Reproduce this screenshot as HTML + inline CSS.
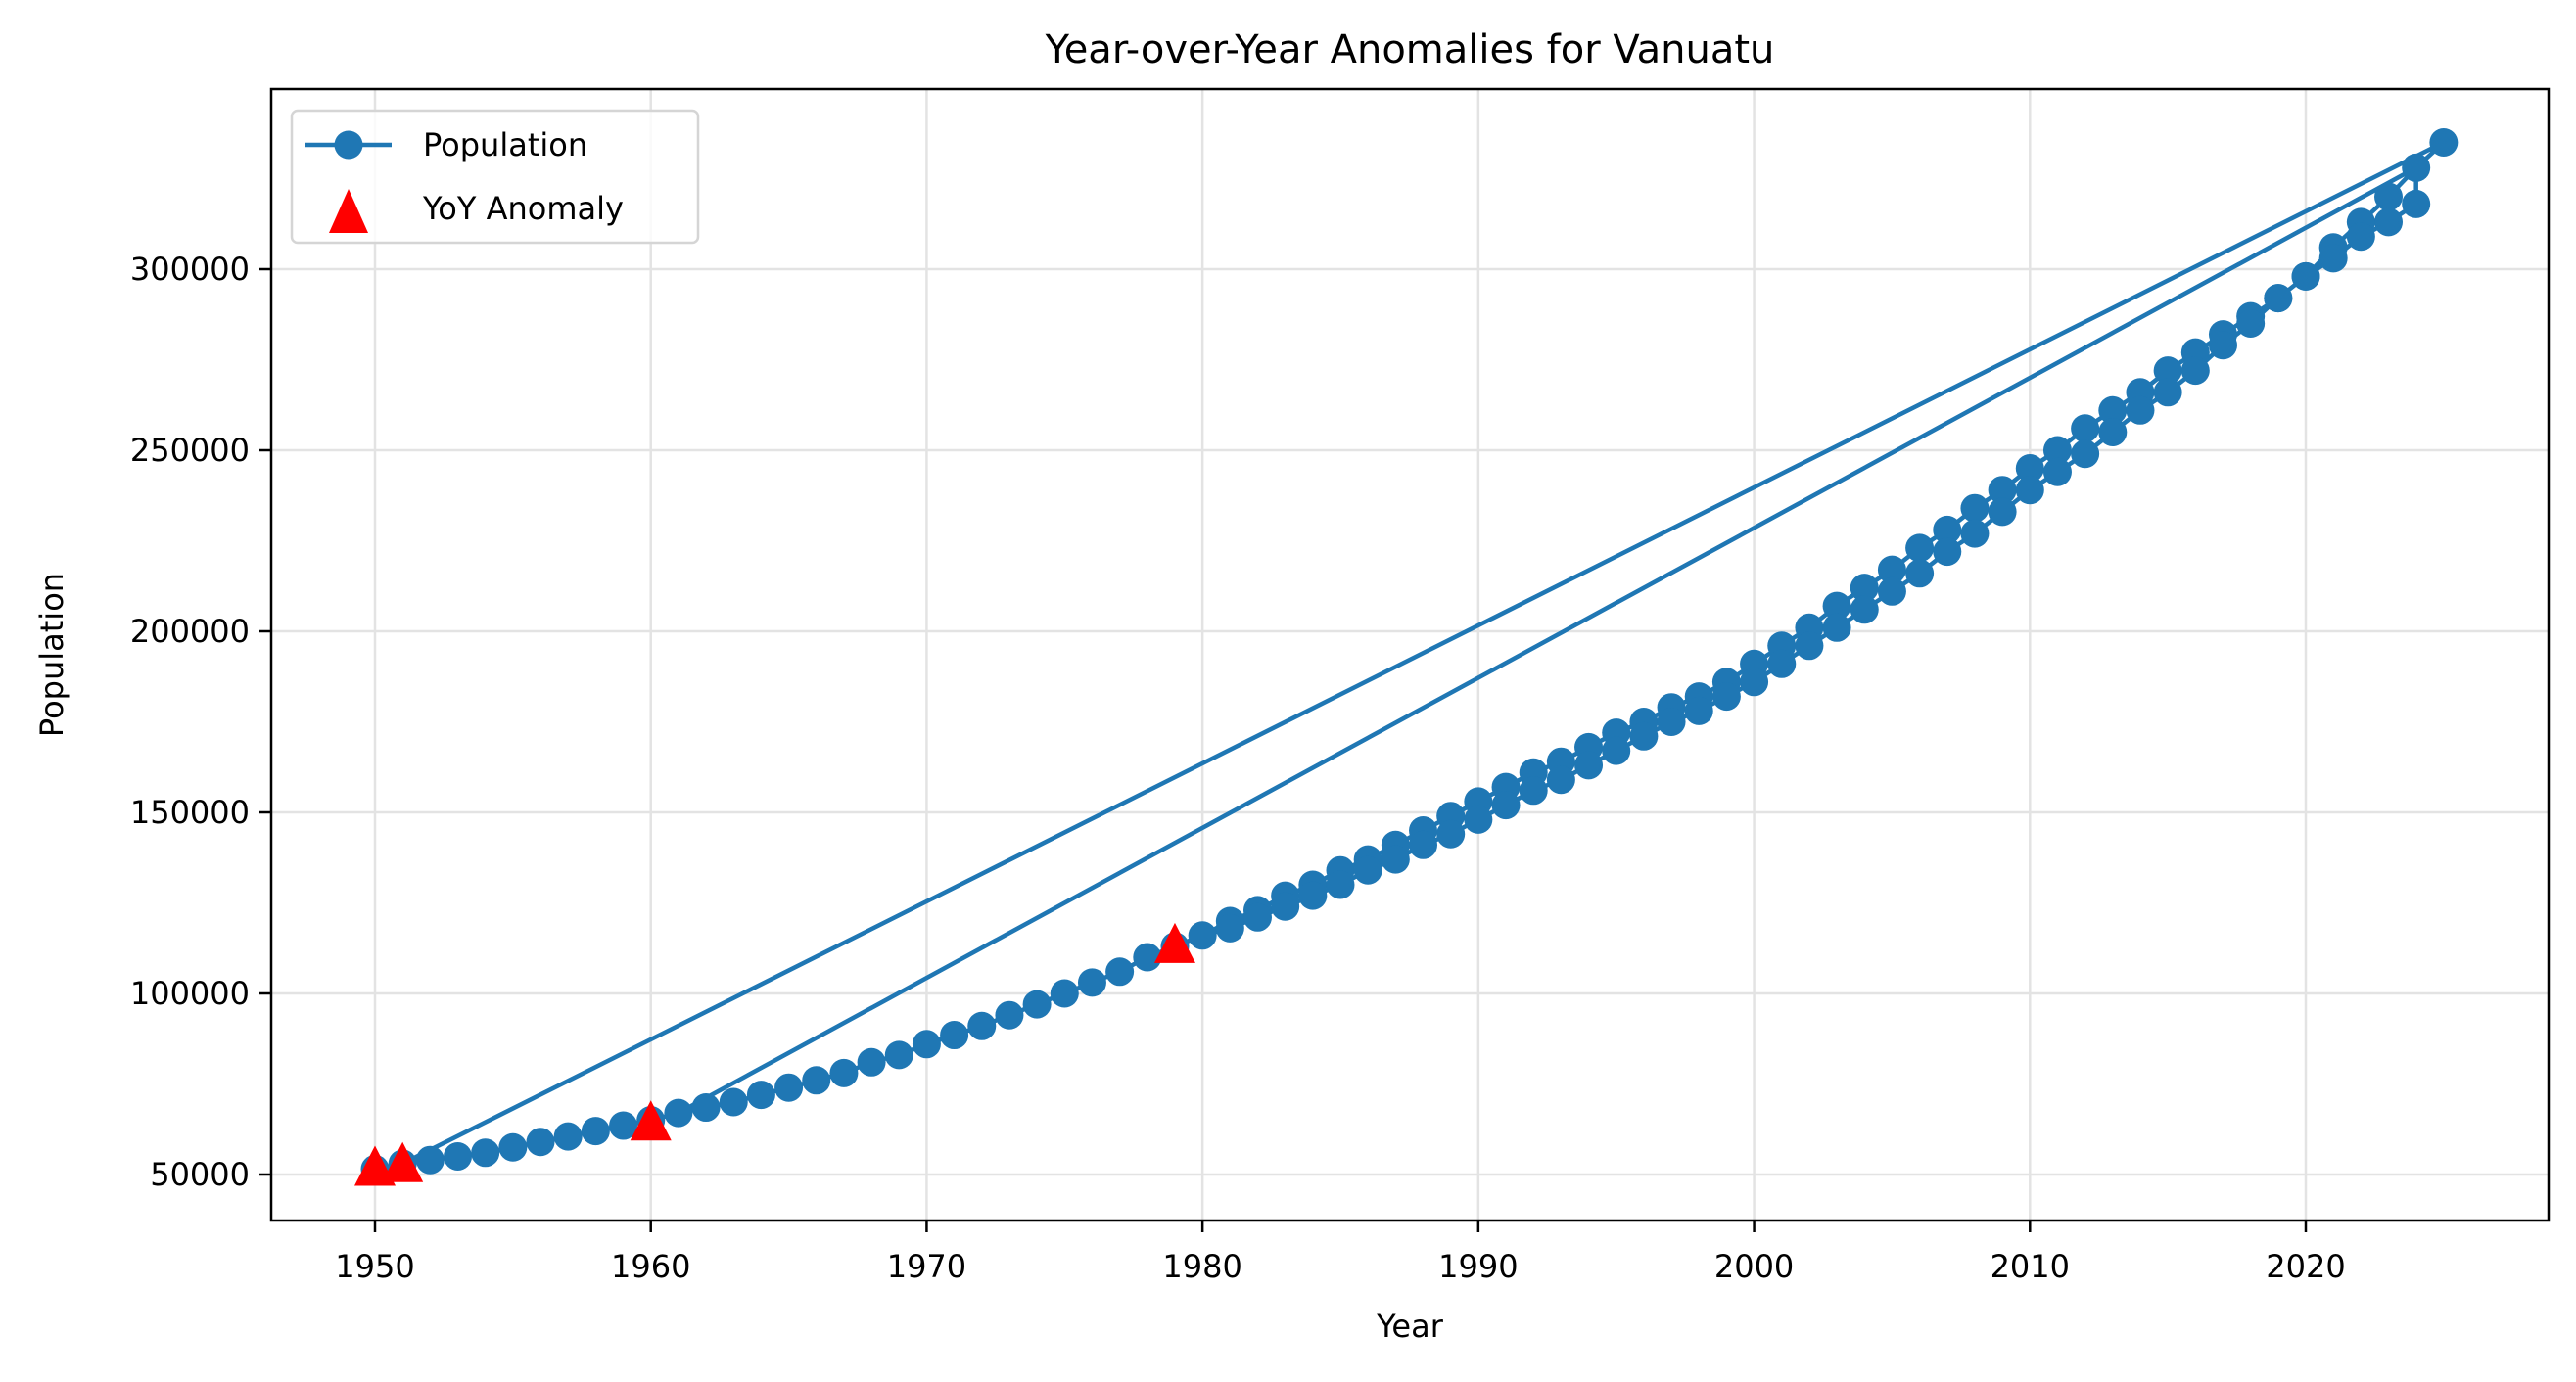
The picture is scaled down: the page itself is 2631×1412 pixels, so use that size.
<!DOCTYPE html>
<html><head><meta charset="utf-8"><style>
body{margin:0;background:#fff;}
svg text{font-family:"DejaVu Sans","Liberation Sans",sans-serif;fill:#000;}
</style></head><body>
<svg id="chart" width="2631" height="1407" xmlns="http://www.w3.org/2000/svg">
<rect width="2631" height="1407" fill="#fff"/>
<g id="grid"></g>
<g id="series"></g>
<g id="axes"></g>
</svg>
<script>
const earlyYears=[1950,1951,1952,1953,1954,1955,1956,1957,1958,1959,1960,1961,1962,1963,1964,1965,1966,1967,1968,1969,1970,1971,1972,1973,1974,1975,1976,1977,1978,1979,1980];
const earlyPop=[51500,53000,54000,55000,56000,57500,59000,60500,62000,63500,65000,67000,68500,70000,72000,74000,76000,78000,81000,83000,86000,88500,91000,94000,97000,100000,103000,106000,110000,113000,116000];
const lateYears=[1981,1982,1983,1984,1985,1986,1987,1988,1989,1990,1991,1992,1993,1994,1995,1996,1997,1998,1999,2000,2001,2002,2003,2004,2005,2006,2007,2008,2009,2010,2011,2012,2013,2014,2015,2016,2017,2018,2019,2020,2021,2022,2023,2024];
const upperPop=[120000,123000,127000,130000,134000,137000,141000,145000,149000,153000,157000,161000,164000,168000,172000,175000,179000,182000,186000,191000,196000,201000,207000,212000,217000,223000,228000,234000,239000,245000,250000,256000,261000,266000,272000,277000,282000,287000,292000,298000,306000,313000,320000,328000];
const lowerPop=[118000,121000,124000,127000,130000,134000,137000,141000,144000,148000,152000,156000,159000,163000,167000,171000,175000,178000,182000,186000,191000,196000,201000,206000,211000,216000,222000,227000,233000,239000,244000,249000,255000,261000,266000,272000,279000,285000,292000,298000,303000,309000,313000,318000];
const lastYear=2025, lastPop=335000;
const anomalyYears=[1950,1951,1960,1979];
const anomalyPop=[51500,52500,64000,113000];
const xTicks=[1950,1960,1970,1980,1990,2000,2010,2020];
const yTicks=[50000,100000,150000,200000,250000,300000];

const L=277,R=2603,T=91,B=1247;
const X=v=>383+(v-1950)*(2355-383)/70;
const Y=v=>1200-(v-50000)*(1200-275)/250000;
const NS="http://www.w3.org/2000/svg";
function mk(tag,attrs,parent,txt){const e=document.createElementNS(NS,tag);for(const k in attrs)e.setAttribute(k,attrs[k]);if(txt!==undefined)e.textContent=txt;parent.appendChild(e);return e;}
const grid=document.getElementById('grid'),series=document.getElementById('series'),axes=document.getElementById('axes'),svg=document.getElementById('chart');

xTicks.forEach(t=>{
 const g=mk('line',{x1:X(t),x2:X(t),y1:T,y2:B,stroke:'#e3e3e3','stroke-width':2.5},grid);
 
 
 mk('line',{x1:X(t),x2:X(t),y1:B,y2:B+12,stroke:'#000','stroke-width':2.5},axes);
 const lb=mk('text',{x:X(t),y:B+58,'text-anchor':'middle','font-size':32},axes,String(t));
 
 
});
yTicks.forEach(t=>{
 const g=mk('line',{x1:L,x2:R,y1:Y(t),y2:Y(t),stroke:'#e3e3e3','stroke-width':2.5},grid);
 
 
 mk('line',{x1:L-12,x2:L,y1:Y(t),y2:Y(t),stroke:'#000','stroke-width':2.5},axes);
 const lb=mk('text',{x:L-22,y:Y(t)+11,'text-anchor':'end','font-size':32},axes,String(t));
 
 
});

const n=lateYears.length;
const px=[],py=[];
px.push(earlyYears[0],earlyYears[1]);py.push(earlyPop[0],earlyPop[1]);
px.push(lastYear);py.push(lastPop);
for(let i=n-1;i>=0;i--){px.push(lateYears[i]);py.push(upperPop[i]);}
for(let i=earlyYears.length-1;i>=11;i--){px.push(earlyYears[i]);py.push(earlyPop[i]);}
px.push(lateYears[n-1]);py.push(upperPop[n-1]);
for(let i=n-1;i>=0;i--){px.push(lateYears[i]);py.push(lowerPop[i]);}
for(let i=earlyYears.length-1;i>=2;i--){px.push(earlyYears[i]);py.push(earlyPop[i]);}
const line=mk('polyline',{points:px.map((v,i)=>X(v)+','+Y(py[i])).join(' '),fill:'none',stroke:'#1f77b4','stroke-width':4.5,'stroke-linejoin':'round'},series);


const allX=earlyYears.concat(lateYears,lateYears,[lastYear]);
const allY=earlyPop.concat(upperPop,lowerPop,[lastPop]);
allX.forEach((v,i)=>{
 const c=mk('circle',{cx:X(v),cy:Y(allY[i]),r:14.5,fill:'#1f77b4'},series);
 
 
});
anomalyYears.forEach((v,i)=>{
 const cx=X(v),cy=Y(anomalyPop[i]);
 const p=mk('polygon',{points:`${cx},${cy-24} ${cx-21},${cy+17} ${cx+21},${cy+17}`,fill:'#ff0000'},series);
 
 
});
const frame=mk('rect',{x:L,y:T,width:R-L,height:B-T,fill:'none',stroke:'#000','stroke-width':2.5},axes);



const title=mk('text',{x:(L+R)/2,y:64,'text-anchor':'middle','font-size':40},svg,'Year-over-Year Anomalies for Vanuatu');


const xl=mk('text',{x:(L+R)/2,y:1366,'text-anchor':'middle','font-size':32},svg,'Year');


const yl=mk('text',{x:64,y:(T+B)/2,'text-anchor':'middle','font-size':32,transform:`rotate(-90 64 ${(T+B)/2})`},svg,'Population');



const lg=mk('g',{},svg);


mk('rect',{x:298,y:113,width:415,height:135,rx:6,fill:'#fff','fill-opacity':0.8,stroke:'#d5d5d5','stroke-width':2.5},lg);
mk('line',{x1:312,x2:400,y1:148,y2:148,stroke:'#1f77b4','stroke-width':4.5},lg);
mk('circle',{cx:356,cy:148,r:14.5,fill:'#1f77b4'},lg);
const t1=mk('text',{x:432,y:159,'font-size':32},lg,'Population');


mk('polygon',{points:'356,193 336,238 376,238',fill:'#ff0000'},lg);
const t2=mk('text',{x:432,y:224,'font-size':32},lg,'YoY Anomaly');


</script>
</body></html>
